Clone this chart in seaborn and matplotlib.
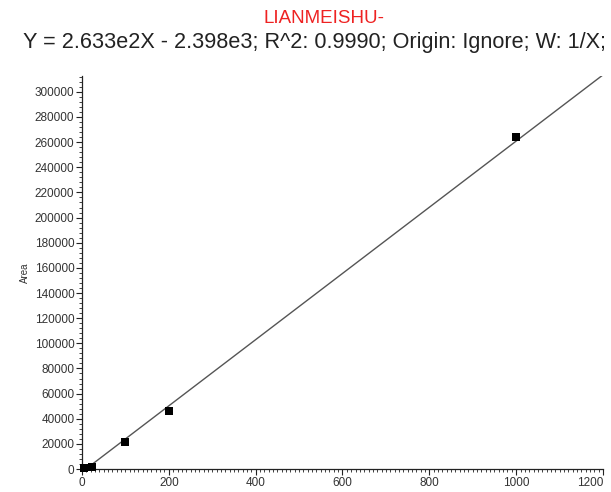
import numpy as np
import pandas as pd
import matplotlib
matplotlib.use("Agg")
import matplotlib.pyplot as plt
import seaborn as sns
from matplotlib.ticker import MultipleLocator

# calibration points (concentration vs. peak area)
conc = [5, 22, 100, 200, 1000]
area = [500, 1800, 21500, 46500, 264000]

# fitted line end points
fit_x = [25, 1200]
fit_y = [4200, 313500]

x_ticks = [0, 200, 400, 600, 800, 1000, 1200]

red_title = "LIANMEISHU-"
fit_title = "Y = 2.633e2X - 2.398e3; R^2: 0.9990; Origin: Ignore; W: 1/X;"

sns.set_style("ticks")
plt.rcParams["font.family"] = ["Liberation Sans", "DejaVu Sans"]

fig = plt.figure(figsize=(6.11, 4.92), dpi=100)
ax = fig.add_axes([0.1342, 0.0467, 0.8527, 0.7988])

pts = pd.DataFrame({"conc": conc, "area": area})
line = pd.DataFrame({"x": fit_x, "y": fit_y})

sns.lineplot(data=line, x="x", y="y", ax=ax, color="#555555", linewidth=1.0)
sns.scatterplot(data=pts, x="conc", y="area", ax=ax, marker="s", s=38,
                color="black", edgecolor="black", linewidth=0, zorder=3,
                clip_on=False)

ax.set_xlim(0, 1200)
ax.set_ylim(0, 312600)
ax.set_xticks(x_ticks, [str(t) for t in x_ticks])
ax.xaxis.set_minor_locator(MultipleLocator(10))
ax.yaxis.set_major_locator(MultipleLocator(20000))
ax.yaxis.set_minor_locator(MultipleLocator(4000))

ax.tick_params(axis="both", which="major", length=4, width=0.8,
               labelsize=8.5, colors="#222222", labelcolor="#333333", pad=1.5)
ax.tick_params(axis="both", which="minor", length=2, width=0.6, colors="#222222")

# keep "1200" inside the figure edge
ax.get_xticklabels()[-1].set_horizontalalignment("right")

for side in ["top", "right"]:
    ax.spines[side].set_visible(False)
for side in ["left", "bottom"]:
    ax.spines[side].set_linewidth(0.9)
    ax.spines[side].set_color("#222222")

ax.set_xlabel("")
ax.set_ylabel("Area", fontsize=7, color="#333333", labelpad=3)

fig.text(0.53, 0.962, red_title, color="#ee2222", fontsize=13.5,
         ha="center", va="center")
fig.text(0.515, 0.913, fit_title, color="#222222", fontsize=15.6,
         ha="center", va="center")

fig.savefig("out.png", dpi=100)
